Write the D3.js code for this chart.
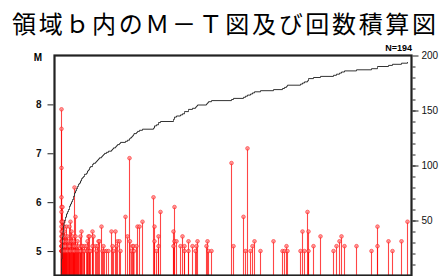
<!DOCTYPE html>
<html>
<head>
<meta charset="utf-8">
<script src="https://cdn.jsdelivr.net/npm/d3@7"></script>
<style>
  body { margin: 0; background: #fff; }
  svg { display: block; }
  .ax text { font-family: "Liberation Sans", Arial, sans-serif; font-size: 10px; font-weight: bold; fill: #111; }
  .ax line { stroke: #222; }
</style>
</head>
<body>
<div id="chart"></div>
<script>
// time of each group of events (same units as the x scale) and the magnitudes at that time
var eventDays = [7, 7.5, 8, 8.5, 9, 9.5, 10, 11, 12, 13, 14, 15, 16, 17, 18, 19, 20, 21,
    22, 23, 24, 25, 26, 27, 28, 29, 30, 32, 33, 34, 35, 36, 38, 39,
    41, 42, 43, 44, 45, 47, 48, 49, 50, 52, 54, 57, 58, 59, 61, 62, 63, 65, 66,
    71, 73, 75, 75.5, 77, 78, 79, 79.5, 82, 83, 85, 88,
    99, 100, 102, 104, 106, 119, 120, 122, 126, 128, 130, 134, 138, 141, 142, 143,
    152, 153, 154, 157, 177, 179, 189, 191, 193, 196, 198, 200, 206, 219, 228, 230, 232, 233,
    246, 248, 250, 253, 254, 259, 266, 279, 282, 285, 287, 290, 302, 317, 323, 334, 338, 347, 353];

var eventMags = [
    [7.9, 7.5, 6.7, 6.1, 5.9, 5.8, 5.6, 5.5, 5.3, 5.1, 5.0, 5.2, 5.4, 5.0, 5.1],
    [5.0, 5.2, 5.0, 5.1, 5.3, 5.0, 5.6, 5.0, 5.1, 5.0],
    [5.9, 5.2, 5.0, 5.1, 5.0, 5.4, 5.0, 5.2, 5.0, 5.1],
    [5.0, 5.3, 5.0, 5.1, 5.0],
    [5.6, 5.0, 5.2, 5.0, 5.1],
    [5.5, 5.0, 5.1],
    [5.4, 5.0],
    [5.3, 5.0, 5.1], [5.5, 5.2, 5.0], [5.3, 5.0], [5.2, 5.1], [5.5, 5.0, 5.1],
    [5.6, 5.0], [5.4, 5.2], [5.3, 5.0], [5.1, 5.0, 5.2], [6.3, 5.1, 5.0], [5.7, 5.3],
    [5.1, 5.0], [5.0, 5.2], [5.0, 5.1], [5.0], [5.3, 5.0], [5.4, 5.1], [5.1], [5.0], [5.0, 5.1], [5.1],
    [5.2, 5.0], [5.3], [5.3, 5.0], [5.0], [5.4, 5.1], [5.3],
    [5.1], [5.0], [5.1], [5.2], [5.2], [5.5], [5.0], [5.1], [5.0], [5.0], [5.0],
    [5.4], [5.1], [5.0], [5.4], [5.1], [5.2], [5.2], [5.0],
    [5.7], [5.3], [6.9], [5.2], [5.0], [5.1], [5.1], [5.0], [5.1], [5.5], [5.5], [5.6],
    [6.1], [5.5, 5.2], [5.0], [5.3, 5.1], [5.8], [5.4, 5.1], [5.9, 5.2], [5.2],
    [5.1], [5.3], [5.1, 5.0], [5.2, 5.0], [5.1], [5.0], [5.1], [5.2],
    [5.1], [5.2], [5.0], [5.0], [6.8], [5.1], [5.7], [5.0], [7.1], [5.0], [5.1], [5.2],
    [5.0], [5.2], [5.0], [5.0], [5.1], [5.0],
    [5.0], [5.4], [5.0], [5.8], [5.4, 5.0], [5.1], [5.3], [5.0], [5.1], [5.2], [5.3], [5.1],
    [5.1], [5.0], [5.5, 5.1], [5.2], [5.0], [5.2], [5.6]
];

var magTicks = [5, 6, 7, 8];
var countTicks = [50, 100, 150, 200];
var title = "領域ｂ内のＭ－Ｔ図及び回数積算図";

// flatten to one event list
var events = [];
eventDays.forEach(function(t, i) {
    eventMags[i].forEach(function(m) { events.push({ t: t, m: m }); });
});

var width = 439, height = 276;
var margin = { top: 55.5, left: 54.5, right: 27.5, bottom: 0.5 };

var svg = d3.select("#chart").append("svg")
    .attr("width", width)
    .attr("height", height);

var x = d3.scaleLinear().domain([0, 357]).range([margin.left, width - margin.right]);
var yM = d3.scaleLinear().domain([4.5, 9]).range([height - margin.bottom, margin.top]);
var yN = d3.scaleLinear().domain([0, 200]).range([height - margin.bottom, margin.top]);

// title
svg.append("text")
    .attr("x", 12)
    .attr("y", 33)
    .attr("textLength", 424)
    .attr("lengthAdjust", "spacing")
    .style("font-family", "'Noto Sans CJK JP', sans-serif")
    .style("font-size", "24px")
    .style("fill", "#000")
    .text(title);

svg.append("text")
    .attr("x", 412)
    .attr("y", 51)
    .attr("text-anchor", "end")
    .style("font-family", "'Liberation Sans', Arial, sans-serif")
    .style("font-size", "9px")
    .style("font-weight", "bold")
    .text("N=" + events.length);

// stems
var g = svg.append("g");
g.selectAll("line.stem")
    .data(events)
    .enter()
    .append("line")
    .attr("class", "stem")
    .attr("x1", function(d) { return x(d.t); })
    .attr("x2", function(d) { return x(d.t); })
    .attr("y1", yM(4.5))
    .attr("y2", function(d) { return yM(d.m); })
    .style("stroke", "#ff0000")
    .style("stroke-width", 1.1)
    .style("opacity", 0.72);

g.selectAll("circle")
    .data(events)
    .enter()
    .append("circle")
    .attr("cx", function(d) { return x(d.t); })
    .attr("cy", function(d) { return yM(d.m); })
    .attr("r", 1.8)
    .style("fill", "#ff8080")
    .style("stroke", "#ff1010")
    .style("stroke-width", 0.8)
    .style("opacity", 0.75);

// cumulative count
var cum = [{ t: events[0].t, n: 0 }];
events.forEach(function(d, i) { cum.push({ t: d.t, n: i + 1 }); });

svg.append("path")
    .datum(cum)
    .attr("d", d3.line()
        .x(function(d) { return x(d.t); })
        .y(function(d) { return yN(d.n); })
        .curve(d3.curveStepAfter))
    .style("fill", "none")
    .style("stroke", "#333")
    .style("stroke-width", 1);

// frame
svg.append("rect")
    .attr("x", x(0))
    .attr("y", margin.top)
    .attr("width", x(357) - x(0))
    .attr("height", yM(4.5) - margin.top)
    .style("fill", "none")
    .style("stroke", "#222")
    .style("stroke-width", 2.2);

// left axis
var left = svg.append("g")
    .attr("class", "ax")
    .attr("transform", "translate(" + (x(0) - 1) + ",0)")
    .call(d3.axisLeft(yM).tickValues(magTicks).tickSize(6).tickPadding(6).tickFormat(d3.format("d")));
left.select(".domain").remove();

svg.append("text")
    .attr("x", 42)
    .attr("y", 61)
    .attr("text-anchor", "end")
    .style("font-family", "'Liberation Sans', Arial, sans-serif")
    .style("font-size", "10px")
    .style("font-weight", "bold")
    .text("M");

// right axis: minor ticks every 10, labelled every 50
var right = svg.append("g")
    .attr("class", "ax")
    .attr("transform", "translate(" + (x(357) + 1) + ",0)");
right.call(d3.axisRight(yN).tickValues(d3.range(10, 200, 10)).tickSize(3).tickFormat(""));
right.select(".domain").remove();

var rightMajor = svg.append("g")
    .attr("class", "ax")
    .attr("transform", "translate(" + (x(357) + 1) + ",0)")
    .call(d3.axisRight(yN).tickValues(countTicks).tickSize(6).tickPadding(3));
rightMajor.select(".domain").remove();
rightMajor.selectAll("text").style("font-weight", "normal");
</script>
</body>
</html>
